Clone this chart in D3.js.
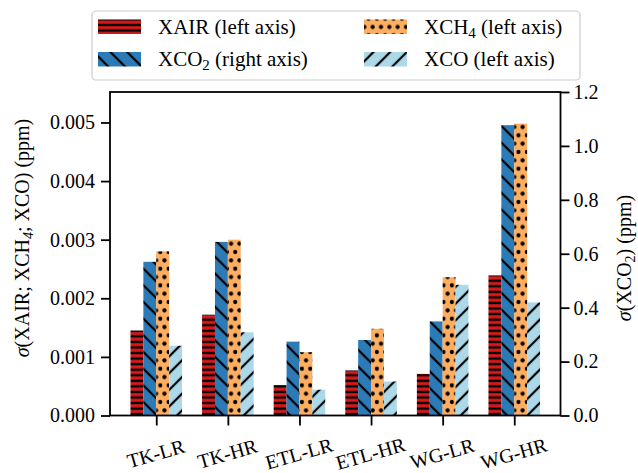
<!DOCTYPE html>
<html><head><meta charset="utf-8">
<script src="https://cdn.jsdelivr.net/npm/d3@7"></script>
<style>body{margin:0;background:#fff}</style>
</head><body><svg id="c" width="638" height="473"></svg>
<script>
const categories = ["TK-LR","TK-HR","ETL-LR","ETL-HR","WG-LR","WG-HR"];
const xairValues = [0.00145, 0.00172, 0.00052, 0.00077, 0.00071, 0.00239];
const xco2Values = [0.570, 0.644, 0.274, 0.280, 0.349, 1.077];
const xch4Values = [0.00280, 0.00300, 0.00108, 0.00148, 0.00236, 0.00498];
const xcoValues  = [0.00119, 0.00142, 0.00044, 0.00058, 0.00223, 0.00193];
const leftTicks = [0, 0.001, 0.002, 0.003, 0.004, 0.005];
const rightTicks = [0, 0.2, 0.4, 0.6, 0.8, 1.0, 1.2];

const series = [
  {key:"XAIR", values:xairValues, axis:"left", fill:"#d7191c", pat:"pRed"},
  {key:"XCO2", values:xco2Values, axis:"right", fill:"#2c7bb6", pat:"pBlue"},
  {key:"XCH4", values:xch4Values, axis:"left", fill:"#fdae61", pat:"pOrange"},
  {key:"XCO",  values:xcoValues,  axis:"left", fill:"#abd9e9", pat:"pLight"}
];

const FONT = "Liberation Serif";
const svg = d3.select("#c").style("font-family", FONT);
const L = 110, R = 560.5, T = 92, B = 415.5;
const x = d3.scaleLinear().domain([-0.646, 5.646]).range([L, R]);
const yL = d3.scaleLinear().domain([0, 0.00552]).range([B, T]);
const yR = d3.scaleLinear().domain([0, 1.2]).range([B, T]);
const barW = 0.18;

const defs = svg.append("defs");
let p = defs.append("pattern").attr("id","pRed").attr("patternUnits","userSpaceOnUse")
  .attr("width",10).attr("height",5.56);
p.append("rect").attr("width",10).attr("height",5.56).attr("fill","#d7191c");
p.append("rect").attr("x",0).attr("y",1.6).attr("width",10).attr("height",2.3).attr("fill","#000");
function diag(id, fill, angle){
  const s = 11.8;
  const q = defs.append("pattern").attr("id",id).attr("patternUnits","userSpaceOnUse")
    .attr("width",s).attr("height",s).attr("patternTransform",`rotate(${angle})`);
  q.append("rect").attr("width",s).attr("height",s).attr("fill",fill);
  q.append("rect").attr("x",s/2-1.1).attr("y",0).attr("width",2.2).attr("height",s).attr("fill","#000");
}
diag("pBlue","#2c7bb6",-45);
diag("pLight","#abd9e9",45);
const dw = 8.33, dh = 16.67;
p = defs.append("pattern").attr("id","pOrange").attr("patternUnits","userSpaceOnUse")
  .attr("width",dw).attr("height",dh).attr("x",2).attr("y",2);
p.append("rect").attr("width",dw).attr("height",dh).attr("fill","#fdae61");
[[0,0],[dw,0],[0,dh],[dw,dh],[dw/2,dh/2]].forEach(([cx,cy])=>{
  p.append("circle").attr("cx",cx).attr("cy",cy).attr("r",2.1).attr("fill","#000");
});

series.forEach((s, si) => {
  const y = s.axis === "left" ? yL : yR;
  svg.append("g").selectAll("rect").data(s.values).join("rect")
    .attr("x", (d,i) => x(i + (si - 2) * barW))
    .attr("width", x(barW) - x(0))
    .attr("y", d => y(d))
    .attr("height", d => B - y(d))
    .attr("fill", `url(#${s.pat})`);
});

function styleAxis(g){
  g.attr("font-family", FONT).attr("font-size", 20);
  g.select(".domain").remove();
  g.selectAll(".tick line").attr("stroke","#000").attr("stroke-width",1.8);
  g.selectAll(".tick text").attr("font-size",20).attr("fill","#000").style("font-family",FONT);
}
svg.append("g").attr("transform",`translate(${L},0)`)
  .call(d3.axisLeft(yL).tickValues(leftTicks).tickFormat(d3.format(".3f")).tickSize(9).tickPadding(6))
  .call(styleAxis);
svg.append("g").attr("transform",`translate(${R},0)`)
  .call(d3.axisRight(yR).tickValues(rightTicks).tickFormat(d3.format(".1f")).tickSize(9).tickPadding(4))
  .call(styleAxis);
const gx = svg.append("g").attr("transform",`translate(0,${B})`)
  .call(d3.axisBottom(x).tickValues(d3.range(categories.length)).tickFormat(i => categories[i]).tickSize(10))
  .call(styleAxis);
gx.selectAll(".tick text").attr("y",0).attr("dy","0.35em").attr("text-anchor","middle")
  .attr("transform","translate(-1,38) rotate(-16)");

svg.append("rect").attr("x",L).attr("y",T).attr("width",R-L).attr("height",B-T)
  .attr("fill","none").attr("stroke","#000").attr("stroke-width",1.8);

const yl = svg.append("text").attr("transform","translate(29,238) rotate(-90)")
  .attr("text-anchor","middle").attr("font-size",20).attr("fill","#000").style("font-family",FONT);
yl.append("tspan").attr("font-style","italic").text("σ");
yl.append("tspan").text("(XAIR; XCH");
yl.append("tspan").attr("font-size",14).attr("font-style","italic").attr("dy",4).text("4");
yl.append("tspan").attr("dy",-4).text("; XCO) (ppm)");

const yr = svg.append("text").attr("transform","translate(631,258) rotate(-90)")
  .attr("text-anchor","middle").attr("font-size",20).attr("fill","#000").style("font-family",FONT);
yr.append("tspan").attr("font-style","italic").text("σ");
yr.append("tspan").text("(XCO");
yr.append("tspan").attr("font-size",14).attr("dy",4).text("2");
yr.append("tspan").attr("dy",-4).text(") (ppm)");

const lg = svg.append("g").style("font-family",FONT);
lg.append("rect").attr("x",92).attr("y",11).attr("width",488).attr("height",69).attr("rx",4)
  .attr("fill","#fff").attr("fill-opacity",0.8).attr("stroke","#cccccc").attr("stroke-width",1.2);
const legendItems = [
  {s:series[0], col:0, row:0, label:["XAIR (left axis)"]},
  {s:series[2], col:1, row:0, label:["XCH","4"," (left axis)"]},
  {s:series[1], col:0, row:1, label:["XCO","2"," (right axis)"]},
  {s:series[3], col:1, row:1, label:["XCO (left axis)"]}
];
const colX = [98, 364], rowY = [19.5, 52];
legendItems.forEach(it => {
  const gx0 = colX[it.col], gy0 = rowY[it.row];
  lg.append("rect").attr("x",gx0).attr("y",gy0).attr("width",43).attr("height",14.5)
    .attr("fill",`url(#${it.s.pat})`);
  const t = lg.append("text").attr("x",gx0+60).attr("y",gy0+14).attr("font-size",21).attr("fill","#000").style("font-family",FONT);
  t.append("tspan").text(it.label[0]);
  if (it.label.length > 1) {
    t.append("tspan").attr("font-size",15).attr("dy",4).text(it.label[1]);
    t.append("tspan").attr("dy",-4).text(it.label[2]);
  }
});
</script></body></html>
